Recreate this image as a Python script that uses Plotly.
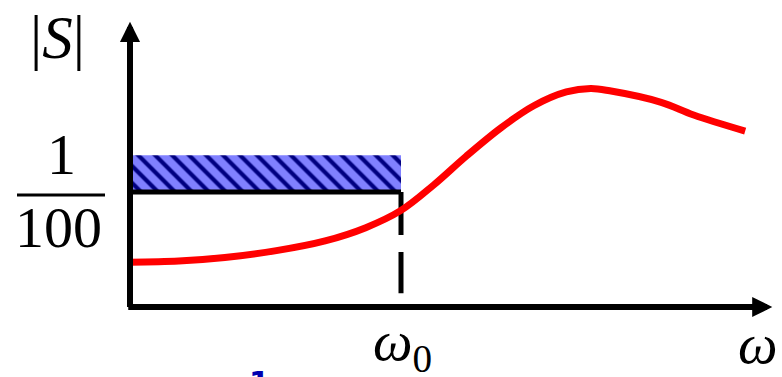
import plotly.graph_objects as go

# Frequency response |S(jw)| sketch (w normalised so that w0 = 1, |S| normalised so that 1/100 = 1)
omega = [0.0, 0.18, 0.35, 0.54, 0.72, 0.87, 1.0, 1.12, 1.24, 1.37, 1.49, 1.61, 1.70, 1.77, 1.96, 2.08, 2.27]
s_mag = [0.39, 0.40, 0.43, 0.49, 0.575, 0.69, 0.84, 1.06, 1.31, 1.56, 1.75, 1.87, 1.90, 1.88, 1.78, 1.67, 1.53]

# forbidden band below w0 (above the 1/100 bound)
band_omega = [0.0, 1.0]
band_bottom = 1.0
band_top = 1.32

# axis extents and dashed marker height
x_axis_end = 2.37
y_axis_end = 2.48
w0 = 1.0
dash_bottom = 0.12

W, H = 782, 377
x_range = [-0.4797, 2.4059]
y_range = [-0.6087, 2.6696]

fig = go.Figure()

# hatched band
fig.add_trace(go.Scatter(
    x=[band_omega[0], band_omega[1], band_omega[1], band_omega[0], band_omega[0]],
    y=[band_bottom, band_bottom, band_top, band_top, band_bottom],
    mode="lines", fill="toself", line=dict(width=0),
    fillcolor="#8080ff",
    fillpattern=dict(shape="\\", fgcolor="#000080", bgcolor="#8080ff",
                     size=12, solidity=0.35, fillmode="replace"),
    hoverinfo="skip", showlegend=False,
))

# 1/100 bound line
fig.add_trace(go.Scatter(
    x=band_omega, y=[band_bottom, band_bottom], mode="lines",
    line=dict(color="black", width=5), showlegend=False, hoverinfo="skip",
))

# dashed marker at w0
fig.add_trace(go.Scatter(
    x=[w0, w0], y=[band_bottom, dash_bottom], mode="lines",
    line=dict(color="black", width=5, dash="43px,17px"),
    showlegend=False, hoverinfo="skip",
))

# |S| curve
fig.add_trace(go.Scatter(
    x=omega, y=s_mag, mode="lines",
    line=dict(color="#ff0000", width=7, shape="spline", smoothing=1.0),
    showlegend=False, hoverinfo="skip",
))

# axes with arrowheads
arrow = dict(showarrow=True, arrowhead=2, arrowsize=0.67, arrowwidth=6,
             arrowcolor="black", xref="x", yref="y", axref="x", ayref="y", text="")
fig.add_annotation(x=x_axis_end, y=0, ax=-0.012, ay=0, **arrow)
fig.add_annotation(x=0, y=y_axis_end, ax=0, ay=-0.012, **arrow)

serif = "Liberation Serif"


def label(px, py, text, size, **kw):
    fig.add_annotation(x=px / W, y=1 - py / H, xref="paper", yref="paper",
                       xanchor="center", yanchor=kw.pop("yanchor", "middle"),
                       text=text, showarrow=False,
                       font=dict(family=kw.pop("family", serif), size=size,
                                 color=kw.pop("color", "black")))


label(57, 37, "|<i>S</i>|", 61)
label(61, 154, "1", 58)
label(59, 228, "100", 58)
fig.add_shape(type="line", xref="paper", yref="paper",
              x0=17 / W, x1=105 / W, y0=1 - 195 / H, y1=1 - 195 / H,
              line=dict(color="black", width=3))
label(402, 345, "<i>ω</i><sub>0</sub>", 56)
label(758, 344, "<i>ω</i>", 56)
label(259, 363, "<b>1</b>", 30, yanchor="top", family="DejaVu Sans", color="#0000b0")

fig.update_layout(
    width=W, height=H,
    margin=dict(l=0, r=0, t=0, b=0),
    paper_bgcolor="white", plot_bgcolor="white",
    xaxis=dict(range=x_range, visible=False, fixedrange=True),
    yaxis=dict(range=y_range, visible=False, fixedrange=True),
)

fig.write_html("out.html")
